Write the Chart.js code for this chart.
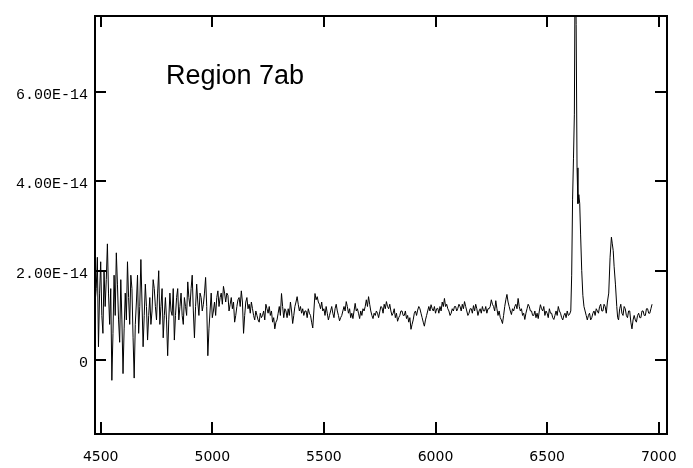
<!DOCTYPE html>
<html><head><meta charset="utf-8">
<script src="https://cdn.jsdelivr.net/npm/chart.js@4/dist/chart.umd.min.js"></script>
<style>html,body{margin:0;padding:0;background:#fff}#wrap{width:693px;height:468px}</style>
</head><body><div id="wrap"><canvas id="c" width="693" height="468"></canvas></div>
<script>
// Wavelength (Angstrom)
const wavelengths = [
4470,4475,4480,4485,4490,4495,4500,4505,4510,4515,4520,4525,4530,4535,4540,4545,4550,4555,4560,4565,
4570,4575,4580,4585,4590,4595,4600,4605,4610,4615,4620,4625,4630,4635,4640,4645,4650,4655,4660,4665,
4670,4675,4680,4685,4690,4695,4700,4705,4710,4715,4720,4725,4730,4735,4740,4745,4750,4755,4760,4765,
4770,4775,4780,4785,4790,4795,4800,4805,4810,4815,4820,4825,4830,4835,4840,4845,4850,4855,4860,4865,
4870,4875,4880,4885,4890,4895,4900,4905,4910,4915,4920,4925,4930,4935,4940,4945,4950,4955,4960,4965,
4970,4975,4980,4985,4990,4995,5000,5005,5010,5015,5020,5025,5030,5035,5040,5045,5050,5055,5060,5065,
5070,5075,5080,5085,5090,5095,5100,5105,5110,5115,5120,5125,5130,5135,5140,5145,5150,5155,5160,5165,
5170,5175,5180,5185,5190,5195,5200,5205,5210,5215,5220,5225,5230,5235,5240,5245,5250,5255,5260,5265,
5270,5275,5280,5285,5290,5295,5300,5305,5310,5315,5320,5325,5330,5335,5340,5345,5350,5355,5360,5365,
5370,5375,5380,5385,5390,5395,5400,5405,5410,5415,5420,5425,5430,5435,5440,5445,5450,5455,5460,5465,
5470,5475,5480,5485,5490,5495,5500,5505,5510,5515,5520,5525,5530,5535,5540,5545,5550,5555,5560,5565,
5570,5575,5580,5585,5590,5595,5600,5605,5610,5615,5620,5625,5630,5635,5640,5645,5650,5655,5660,5665,
5670,5675,5680,5685,5690,5695,5700,5705,5710,5715,5720,5725,5730,5735,5740,5745,5750,5755,5760,5765,
5770,5775,5780,5785,5790,5795,5800,5805,5810,5815,5820,5825,5830,5835,5840,5845,5850,5855,5860,5865,
5870,5875,5880,5885,5890,5895,5900,5905,5910,5915,5920,5925,5930,5935,5940,5945,5950,5955,5960,5965,
5970,5975,5980,5985,5990,5995,6000,6005,6010,6015,6020,6025,6030,6035,6040,6045,6050,6055,6060,6065,
6070,6075,6080,6085,6090,6095,6100,6105,6110,6115,6120,6125,6130,6135,6140,6145,6150,6155,6160,6165,
6170,6175,6180,6185,6190,6195,6200,6205,6210,6215,6220,6225,6230,6235,6240,6245,6250,6255,6260,6265,
6270,6275,6280,6285,6290,6295,6300,6305,6310,6315,6320,6325,6330,6335,6340,6345,6350,6355,6360,6365,
6370,6375,6380,6385,6390,6395,6400,6405,6410,6415,6420,6425,6430,6435,6440,6445,6450,6455,6460,6465,
6470,6475,6480,6485,6490,6495,6500,6505,6510,6515,6520,6525,6530,6535,6540,6545,6550,6555,6560,6565,
6570,6575,6580,6585,6590,6595,6600,6606,6610,6614,6618,6622,6626,6630,6634,6638,6642,6646,6650,6655,
6660,6665,6670,6675,6680,6685,6690,6695,6700,6705,6710,6715,6720,6725,6730,6735,6740,6745,6750,6755,
6760,6765,6770,6776,6782,6788,6792,6796,6800,6806,6812,6816,6820,6825,6830,6835,6840,6845,6850,6855,
6860,6865,6870,6875,6880,6885,6890,6895,6900,6905,6910,6915,6920,6925,6930,6935,6940,6945,6950,6955,
6960,6965,6970
];
// Flux in units of 1E-14 erg/s/cm2/A
const flux = [
2.75,1.3,1.6,2.3,0.3,1.5,2.2,1.0,0.6,2.0,1.2,1.8,2.6,1.5,0.8,1.6,-0.45,0.6,1.9,1.0,
2.4,1.7,0.9,0.4,1.8,0.9,-0.3,0.7,1.5,0.9,2.2,1.4,0.8,1.9,1.6,0.5,-0.4,0.8,1.3,1.9,
0.6,1.2,2.25,1.3,0.3,1.0,1.7,1.2,0.45,1.0,1.4,0.8,1.1,1.8,1.6,1.2,0.9,1.5,2.0,0.8,
1.2,1.6,0.5,1.0,1.4,0.9,0.1,0.9,1.5,1.1,1.0,1.6,0.45,1.0,1.4,1.6,0.9,1.2,1.5,1.0,
0.8,1.4,1.2,1.0,1.75,1.4,1.2,1.6,1.9,1.1,0.5,1.2,1.7,1.3,1.0,1.5,1.4,1.1,1.25,1.5,
1.85,1.2,0.1,0.7,1.1,1.5,0.95,1.1,1.3,1.0,1.4,1.55,1.2,1.4,1.5,1.25,1.65,1.5,1.3,1.5,
1.45,1.1,1.25,1.4,1.15,1.3,0.85,1.0,1.2,1.35,1.4,1.2,1.55,1.3,0.6,1.0,1.3,1.4,1.15,1.25,
1.05,1.3,1.15,1.0,0.9,1.1,1.0,0.9,0.85,1.05,0.95,1.0,1.1,0.9,1.25,1.15,1.05,1.2,1.0,1.1,
0.85,0.95,0.7,0.85,0.9,1.05,1.2,1.0,1.49,1.2,0.95,1.15,1.1,0.95,1.15,1.0,1.3,1.1,0.82,1.0,
1.2,1.3,1.42,1.25,1.1,1.2,1.05,1.15,1.0,1.1,1.1,0.95,1.15,1.05,1.0,0.85,0.72,1.1,1.49,1.35,
1.42,1.3,1.25,1.15,1.3,1.1,1.15,1.0,1.2,1.05,0.9,1.0,1.1,1.2,1.05,0.95,1.15,1.25,1.1,1.0,
0.88,0.95,1.0,1.1,1.2,1.1,1.31,1.2,1.05,1.15,0.95,1.05,0.93,1.1,1.27,1.1,1.15,1.05,0.93,1.1,
1.0,1.15,1.1,1.2,1.35,1.2,1.42,1.25,1.1,1.0,0.93,1.05,1.0,1.1,1.05,0.95,1.08,1.2,1.18,1.05,
1.25,1.15,1.31,1.2,1.15,1.25,1.1,1.0,1.05,1.15,0.95,1.05,0.87,0.95,1.0,1.1,1.1,1.0,1.0,1.1,
0.93,1.0,0.85,0.95,0.69,0.8,0.9,1.05,1.1,1.0,1.12,1.2,1.15,1.05,0.95,0.85,0.76,0.9,1.0,1.1,
1.2,1.1,1.24,1.15,1.1,1.2,1.05,1.15,1.16,1.05,1.2,1.1,1.3,1.2,1.38,1.2,1.25,1.15,1.1,1.0,
1.05,1.15,1.1,1.2,1.2,1.1,1.16,1.25,1.2,1.1,1.25,1.15,1.31,1.2,1.1,1.0,1.05,1.15,1.15,1.05,
1.22,1.1,1.25,1.15,1.0,1.1,1.15,1.05,1.2,1.1,1.1,1.2,1.05,1.15,1.15,1.2,1.35,1.25,1.2,1.1,
1.33,1.15,1.0,1.1,0.95,0.9,0.82,1.0,1.2,1.35,1.47,1.3,1.2,1.1,1.02,1.15,1.1,1.2,1.25,1.15,
1.38,1.2,1.1,1.15,1.0,1.05,0.91,1.05,1.15,1.25,1.2,1.1,1.1,1.0,1.0,1.1,0.95,1.05,0.93,1.1,
1.24,1.15,1.1,1.2,1.0,1.1,1.05,0.95,1.15,1.05,1.05,0.95,0.91,1.0,1.1,1.0,1.2,1.1,1.05,0.95,
0.9,1.0,1.05,0.95,1.1,1.0,1.02,1.1,1.9,3.6,4.5,5.5,9.5,7.5,4.3,3.5,3.7,3.5,2.8,2.0,
1.45,1.2,1.1,1.0,0.9,1.0,1.05,0.9,0.95,1.05,1.1,1.0,1.15,1.1,1.05,1.2,1.25,1.1,1.1,1.25,
1.2,1.05,1.3,1.5,2.3,2.75,2.6,2.45,2.1,1.7,1.2,0.95,0.9,1.15,1.25,1.05,1.0,1.2,1.15,1.0,
0.95,1.1,1.1,0.85,0.7,0.9,1.0,0.9,0.85,1.0,1.05,0.95,0.95,1.1,1.1,1.0,1.0,1.15,1.15,1.05,
1.05,1.15,1.25
];
const xTicks = [4500, 5000, 5500, 6000, 6500, 7000];
const yTicks = [0, 2, 4, 6];
const yTickLabels = ['0', '2.00E-14', '4.00E-14', '6.00E-14'];
const titleText = 'Region 7ab';

const points = wavelengths.map((w, i) => ({x: w, y: flux[i]}));

const framePlugin = {
  id: 'frame',
  afterDraw(chart) {
    const {ctx, chartArea: a, scales} = chart;
    ctx.save();
    ctx.strokeStyle = '#000';
    ctx.lineWidth = 2;
    ctx.strokeRect(a.left + 1, a.top + 1, a.right - a.left - 1, a.bottom - a.top - 1);
    const L = 12;
    ctx.beginPath();
    scales.x.ticks.forEach(t => {
      const px = Math.round(scales.x.getPixelForValue(t.value));
      ctx.moveTo(px, a.bottom); ctx.lineTo(px, a.bottom - L);
      ctx.moveTo(px, a.top); ctx.lineTo(px, a.top + L);
    });
    scales.y.ticks.forEach(t => {
      const py = Math.round(scales.y.getPixelForValue(t.value));
      ctx.moveTo(a.left, py); ctx.lineTo(a.left + L, py);
      ctx.moveTo(a.right, py); ctx.lineTo(a.right - L, py);
    });
    ctx.stroke();
    ctx.fillStyle = '#000';
    ctx.font = '27px "Liberation Sans", Arial, sans-serif';
    ctx.textBaseline = 'alphabetic';
    ctx.fillText(titleText, 166, 84);
    ctx.restore();
  }
};

new Chart(document.getElementById('c'), {
  type: 'line',
  data: { datasets: [{
    data: points,
    borderColor: '#000',
    borderWidth: 1,
    pointRadius: 0,
    tension: 0,
    fill: false
  }]},
  options: {
    responsive: false,
    animation: false,
    devicePixelRatio: 1,
    layout: { padding: { left: 0, right: 26, top: 10, bottom: 0 } },
    plugins: { legend: { display: false }, tooltip: { enabled: false }, title: { display: false } },
    scales: {
      x: {
        type: 'linear', min: 4470, max: 7037,
        afterBuildTicks: s => { s.ticks = xTicks.map(v => ({value: v})); },
        afterFit: s => { s.height = 34; },
        grid: { display: false, drawTicks: false },
        border: { display: false },
        ticks: { color: '#000', padding: 15, maxRotation: 0, autoSkip: false,
          font: { family: '"DejaVu Sans", sans-serif', size: 14 },
          callback: v => String(v) }
      },
      y: {
        type: 'linear', min: -1.65, max: 7.716,
        afterBuildTicks: s => { s.ticks = yTicks.map(v => ({value: v})); },
        afterFit: s => { s.width = 94; },
        grid: { display: false, drawTicks: false },
        border: { display: false },
        ticks: { color: '#000', padding: 6, labelOffset: 3, autoSkip: false,
          font: { family: '"Liberation Mono", monospace', size: 15 },
          callback: (v) => yTickLabels[yTicks.indexOf(v)] }
      }
    }
  },
  plugins: [framePlugin]
});
</script>
</body></html>
